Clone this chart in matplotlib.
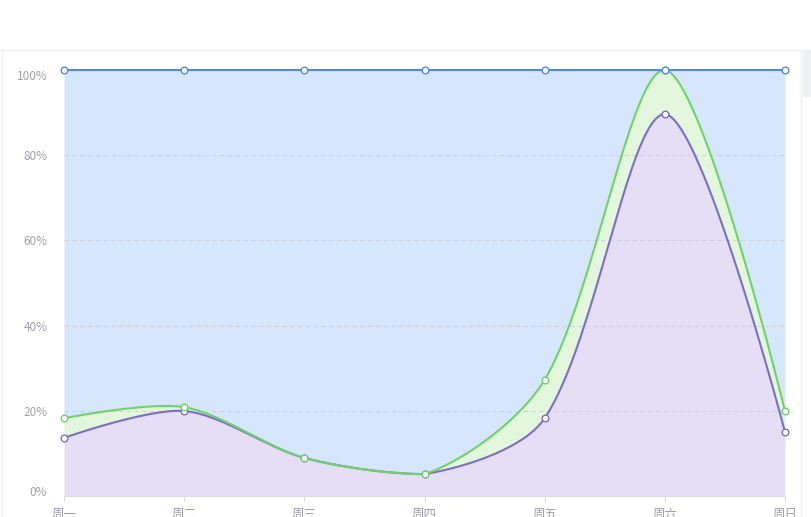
import numpy as np
import matplotlib
matplotlib.use("Agg")
import matplotlib.pyplot as plt
from matplotlib.patches import Rectangle
from matplotlib.lines import Line2D

plt.rcParams["font.family"] = ["Noto Sans CJK SC", "DejaVu Sans"]

days = ["周一", "周二", "周三", "周四", "周五", "周六", "周日"]
# stacked percentages, bottom to top
purple = [13.7, 20.0, 9.0, 5.2, 18.3, 89.6, 15.1]
green = [4.6, 0.9, 0.0, 0.0, 9.0, 10.4, 4.9]
blue = [81.7, 79.1, 91.0, 94.8, 72.7, 0.0, 80.0]
yticks = [0, 20, 40, 60, 80, 100]

W, H = 812, 517
L, R, B, T = 64, 785, 496.3, 69.7
SX = (R - L) / (len(days) - 1)   # px per category
SY = (B - T) / 100.0             # px per percent


def smooth_curve(xs, ys, smooth=0.3, n=40):
    # bezier smoothing in pixel units; end points keep their own control point,
    # inner control points are clipped to the series bounding box
    P = np.column_stack([np.asarray(xs, float) * SX, np.asarray(ys, float) * SY])
    lo, hi = P.min(axis=0), P.max(axis=0)
    m = len(P)
    cp0 = P[0].copy()
    out = [P[0]]
    t = np.linspace(0, 1, n)[1:, None]
    for k in range(1, m):
        p = P[k]
        if k == m - 1:
            cp1 = p.copy(); nxt_cp = None
        else:
            prev, nxt = P[k - 1], P[k + 1]
            v = nxt - prev
            lp = np.hypot(*(p - prev)); ln = np.hypot(*(nxt - p))
            r = ln / (ln + lp)
            cp1 = p - v * smooth * (1 - r)
            nxt_cp = p + v * smooth * r
        c0 = np.clip(cp0, lo, hi); c1 = np.clip(cp1, lo, hi)
        p0 = P[k - 1]
        seg = (1 - t) ** 3 * p0 + 3 * (1 - t) ** 2 * t * c0 + 3 * (1 - t) * t ** 2 * c1 + t ** 3 * p
        out.extend(seg)
        cp0 = nxt_cp
    out = np.array(out)
    return out[:, 0] / SX, out[:, 1] / SY


fig = plt.figure(figsize=(W / 100, H / 100), dpi=100)
ax = fig.add_axes([L / W, 1 - B / H, (R - L) / W, (B - T) / H])

xi = np.arange(len(days))
c1 = np.array(purple)
c2 = c1 + np.array(green)
c3 = c2 + np.array(blue)

x1, y1 = smooth_curve(xi, c1)
x2, y2 = smooth_curve(xi, c2)
x3, y3 = smooth_curve(xi, c3)
# resample the layers on a shared x grid for the fills
xg = np.linspace(0, len(days) - 1, 1200)
g1 = np.interp(xg, x1, y1); g2 = np.interp(xg, x2, y2); g3 = np.interp(xg, x3, y3)

ax.fill_between(xg, 0, g1, color="#e6def4", lw=0, zorder=1)
ax.fill_between(xg, g1, g2, color="#e3f7dd", lw=0, zorder=1)
ax.fill_between(xg, g2, g3, color="#d6e6fc", lw=0, zorder=1)

series = [(x1, y1, c1, "#7b6ec8"), (x2, y2, c2, "#72d26a"), (x3, y3, c3, "#4f8ae8")]
for sx, sy, pts, col in series:
    ax.plot(sx, sy, color=col, lw=1.5, zorder=3, clip_on=False)
    ax.plot(xi, pts, ls="none", marker="o", ms=4.8, mfc="white", mec=col, mew=1.0,
            zorder=4, clip_on=False)

ax.set_xlim(0, len(days) - 1)
ax.set_ylim(0, 100)
ax.set_yticks(yticks)
ax.set_yticklabels([f"{v}%" for v in yticks])
for v in yticks[1:-1]:
    ax.axhline(v, color="#cfd3e0", lw=0.8, ls=(0, (4, 3)), zorder=2)
for lab in ax.get_yticklabels():
    if lab.get_text() == "100%":
        lab.set_va("top")
    elif lab.get_text() == "0%":
        lab.set_va("baseline")
ax.set_xticks(xi)
ax.set_xticklabels(days)
ax.tick_params(axis="y", length=0, pad=12, labelsize=8.5, labelcolor="#a0a0ac")
ax.tick_params(axis="x", length=3.6, width=0.8, color="#d9d9e0", pad=5,
               labelsize=9, labelcolor="#a0a0ac")
for s in ["top", "right", "left"]:
    ax.spines[s].set_visible(False)
ax.spines["bottom"].set_color("#dcdce3")
ax.spines["bottom"].set_linewidth(0.8)
ax.patch.set_alpha(0)

# panel frame pieces around the chart
fig.add_artist(Line2D([0, 1], [1 - 50 / H, 1 - 50 / H], color="#eeeff2", lw=1))
fig.add_artist(Line2D([2 / W, 2 / W], [0, 1 - 50 / H], color="#f0f0f3", lw=1))
fig.add_artist(Line2D([801 / W, 801 / W], [0, 1 - 50 / H], color="#f0f0f3", lw=1))
fig.add_artist(Rectangle((803 / W, 1 - 97 / H), 9 / W, 46 / H, color="#eef0f3", lw=0))

fig.savefig("out.png", dpi=100)
